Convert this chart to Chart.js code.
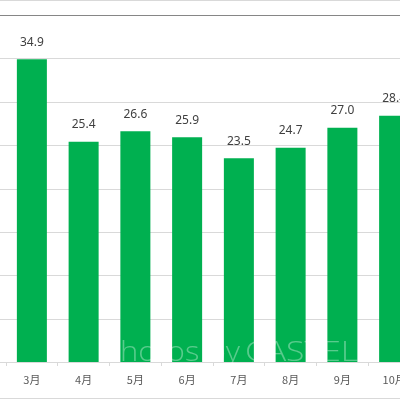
<!DOCTYPE html>
<html><head><meta charset="utf-8">
<script src="https://cdn.jsdelivr.net/npm/chart.js@4"></script>
<style>
html,body{margin:0;padding:0;overflow:hidden;background:#fff;width:400px;height:400px}
#wrap{position:absolute;left:0;top:0;width:440px;height:400px}
</style>
</head><body>
<div id="wrap"><canvas id="c" width="440" height="400"></canvas></div>
<script>
const categories = ['3月','4月','5月','6月','7月','8月','9月','10月'];
const values = [34.9, 25.4, 26.6, 25.9, 23.5, 24.7, 27.0, 28.4];
const valueLabels = ['34.9','25.4','26.6','25.9','23.5','24.7','27.0','28.4'];
const yTicks = [0, 5, 10, 15, 20, 25, 30, 35, 40];
const watermarkParts = ['Photos by', 'CASTEL'];

const decor = {
  id: 'decor',
  beforeDatasetsDraw(chart) {
    const ctx = chart.ctx, y = chart.scales.y, W = chart.width;
    ctx.save();
    ctx.lineWidth = 1;
    ctx.strokeStyle = '#d9d9d9';
    ctx.beginPath(); ctx.moveTo(0, 0.5); ctx.lineTo(W, 0.5); ctx.stroke();
    ctx.beginPath(); ctx.moveTo(0, 398.5); ctx.lineTo(W, 398.5); ctx.stroke();
    yTicks.forEach((t) => {
      const py = Math.round(y.getPixelForValue(t)) + 0.5;
      ctx.strokeStyle = (t === yTicks[yTicks.length - 1]) ? '#868686' : '#d9d9d9';
      ctx.beginPath(); ctx.moveTo(0, py); ctx.lineTo(W, py); ctx.stroke();
    });
    ctx.restore();
  },
  afterDatasetsDraw(chart) {
    const ctx = chart.ctx;
    const meta = chart.getDatasetMeta(0);
    ctx.save();
    ctx.fillStyle = '#404040';
    ctx.font = '12px "Noto Sans", "Open Sans", sans-serif';
    ctx.textAlign = 'center';
    ctx.textBaseline = 'middle';
    meta.data.forEach((bar, i) => {
      ctx.fillText(valueLabels[i], bar.x, bar.y - 17);
    });
    ctx.restore();
    // watermark
    const yb = chart.scales.y.getPixelForValue(0);
    const spans = [[102, 240], [245, 358]];
    watermarkParts.forEach((txt, i) => {
      ctx.save();
      ctx.font = '300 27px "Open Sans", sans-serif';
      ctx.textAlign = 'left';
      ctx.textBaseline = 'alphabetic';
      const w = ctx.measureText(txt).width;
      const [a, b] = spans[i];
      ctx.translate(a, yb - 1);
      ctx.scale((b - a) / w, 1);
      ctx.fillStyle = 'rgba(255,255,255,0.35)';
      ctx.fillText(txt, 0, 0);
      ctx.restore();
    });
  }
};

new Chart(document.getElementById('c'), {
  type: 'bar',
  data: {
    labels: categories,
    datasets: [{
      data: values,
      backgroundColor: '#00b050',
      borderWidth: 0,
      categoryPercentage: 1,
      barPercentage: 0.58
    }]
  },
  options: {
    responsive: false,
    animation: false,
    layout: { padding: { left: 6, right: 20, top: 15, bottom: 0 } },
    plugins: { legend: { display: false }, tooltip: { enabled: false }, title: { display: false } },
    scales: {
      x: {
        offset: true,
        grid: { display: true, drawOnChartArea: false, drawTicks: true, tickLength: 4, color: '#d9d9d9', offset: true },
        border: { display: false },
        ticks: { color: '#595959', font: { family: '"Noto Sans CJK JP", sans-serif', size: 11 }, padding: 7, maxRotation: 0, autoSkip: false },
        afterFit(s) { s.height = 38; }
      },
      y: {
        display: false,
        min: 0, max: 40,
        ticks: { stepSize: 5 }
      }
    }
  },
  plugins: [decor]
});
</script>
</body></html>
